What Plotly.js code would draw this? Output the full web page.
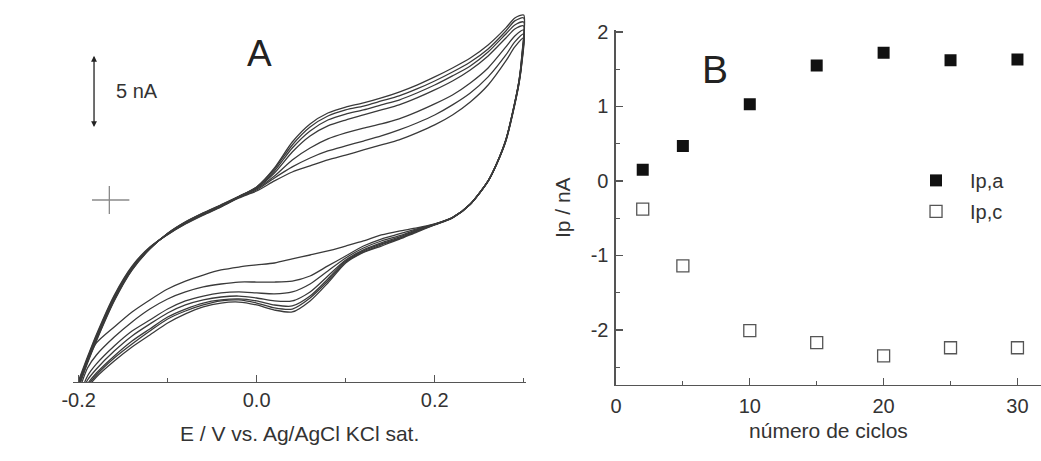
<!DOCTYPE html>
<html>
<head>
<meta charset="utf-8">
<script src="https://cdn.plot.ly/plotly-3.0.1.min.js"></script>
<style>html,body{margin:0;padding:0;background:#fff;}#chart{width:1041px;height:461px;}</style>
</head>
<body>
<div id="chart"></div>
<script>
// ---------- Panel A: cyclic voltammograms (E in V, current in nA) ----------
const E_forward = [-0.20, -0.19, -0.18, -0.16, -0.14, -0.12, -0.10, -0.08, -0.06, -0.04, -0.02, 0.00, 0.02, 0.04, 0.06, 0.08, 0.10, 0.12, 0.14, 0.16, 0.18, 0.20, 0.22, 0.24, 0.26, 0.28, 0.29, 0.30];
const E_reverse = [0.298, 0.295, 0.29, 0.28, 0.27, 0.26, 0.24, 0.22, 0.20, 0.18, 0.16, 0.14, 0.12, 0.10, 0.08, 0.06, 0.04, 0.02, 0.00, -0.02, -0.04, -0.06, -0.08, -0.10, -0.12, -0.14, -0.16, -0.18, -0.19, -0.20];

const cycle2_fwd  = [-12.9, -11.2, -9.6, -6.8, -4.72, -3.36, -2.48, -1.72, -1.08, -0.5, 0.14, 0.64, 1.36, 2.0, 2.43, 2.86, 3.21, 3.57, 3.93, 4.29, 4.79, 5.36, 6.07, 7.0, 8.21, 9.93, 10.93, 11.57];
const cycle5_fwd  = [-13.0, -11.3, -9.7, -6.88, -4.78, -3.39, -2.46, -1.69, -1.05, -0.47, 0.17, 0.71, 1.57, 2.36, 3.0, 3.5, 3.86, 4.21, 4.57, 5.0, 5.5, 6.07, 6.79, 7.64, 8.79, 10.36, 11.29, 11.86];
const cycle10_fwd = [-13.1, -11.38, -9.78, -6.96, -4.83, -3.42, -2.44, -1.66, -1.02, -0.44, 0.2, 0.79, 1.71, 2.86, 3.71, 4.36, 4.79, 5.14, 5.43, 5.79, 6.29, 6.86, 7.5, 8.36, 9.43, 10.93, 11.71, 12.14];
const cycle15_fwd = [-13.18, -11.45, -9.86, -7.03, -4.88, -3.45, -2.42, -1.63, -0.99, -0.41, 0.22, 0.86, 1.93, 3.43, 4.57, 5.29, 5.71, 6.07, 6.43, 6.79, 7.29, 7.86, 8.5, 9.29, 10.29, 11.57, 12.21, 12.43];
const cycle25_fwd = [-13.25, -11.52, -9.93, -7.1, -4.93, -3.47, -2.4, -1.6, -0.96, -0.38, 0.24, 0.86, 2.07, 3.71, 4.93, 5.71, 6.14, 6.43, 6.79, 7.14, 7.64, 8.21, 8.86, 9.57, 10.57, 11.86, 12.5, 12.71];
const cycle30_fwd = [-13.32, -11.58, -10.0, -7.16, -4.97, -3.49, -2.39, -1.58, -0.94, -0.36, 0.25, 0.93, 2.21, 3.93, 5.21, 6.0, 6.43, 6.71, 7.07, 7.43, 7.93, 8.5, 9.14, 9.86, 10.79, 12.07, 12.79, 13.0];
const cycle20_fwd = [-13.4, -11.65, -10.07, -7.22, -5.01, -3.51, -2.38, -1.56, -0.92, -0.34, 0.26, 0.93, 2.29, 4.14, 5.43, 6.21, 6.64, 6.93, 7.29, 7.71, 8.21, 8.79, 9.43, 10.14, 11.07, 12.29, 13.0, 13.21];

const cycle2_rev  = [9.8, 8.4, 6.8, 4.2, 2.6, 1.33, -0.3, -1.24, -1.71, -2.0, -2.22, -2.5, -2.93, -3.29, -3.64, -3.93, -4.21, -4.5, -4.64, -4.79, -5.0, -5.36, -5.79, -6.36, -7.14, -8.0, -9.07, -10.21, -11.43, -13.21];
const cycle5_rev  = [9.9, 8.45, 6.85, 4.23, 2.61, 1.34, -0.3, -1.25, -1.72, -2.07, -2.43, -2.79, -3.29, -4.0, -4.71, -5.43, -5.79, -5.86, -5.86, -5.86, -6.0, -6.21, -6.57, -7.07, -7.79, -8.71, -9.79, -11.07, -12.0, -13.71];
const cycle10_rev = [10.0, 8.5, 6.9, 4.26, 2.63, 1.35, -0.29, -1.26, -1.74, -2.12, -2.57, -2.93, -3.43, -4.14, -5.07, -6.0, -6.57, -6.71, -6.64, -6.57, -6.64, -6.86, -7.21, -7.79, -8.57, -9.36, -10.43, -11.71, -12.57, -14.14];
const cycle15_rev = [10.1, 8.55, 6.92, 4.28, 2.64, 1.36, -0.29, -1.27, -1.75, -2.17, -2.66, -3.07, -3.57, -4.29, -5.43, -6.57, -7.21, -7.21, -7.0, -6.86, -6.93, -7.14, -7.5, -8.07, -8.86, -9.71, -10.79, -12.07, -12.86, -14.36];
const cycle25_rev = [10.2, 8.6, 6.95, 4.3, 2.65, 1.36, -0.3, -1.27, -1.76, -2.2, -2.73, -3.14, -3.64, -4.36, -5.64, -6.86, -7.57, -7.5, -7.21, -7.07, -7.14, -7.36, -7.79, -8.36, -9.21, -10.07, -11.14, -12.36, -13.14, -14.5];
const cycle30_rev = [10.3, 8.62, 6.96, 4.31, 2.65, 1.37, -0.3, -1.28, -1.77, -2.24, -2.76, -3.21, -3.71, -4.43, -5.79, -7.0, -7.79, -7.71, -7.36, -7.14, -7.21, -7.5, -7.93, -8.5, -9.36, -10.29, -11.29, -12.5, -13.29, -14.57];
const cycle20_rev = [10.4, 8.65, 6.98, 4.32, 2.66, 1.37, -0.31, -1.28, -1.78, -2.29, -2.82, -3.29, -3.75, -4.5, -5.93, -7.21, -8.0, -7.86, -7.5, -7.29, -7.36, -7.64, -8.14, -8.79, -9.64, -10.5, -11.5, -12.64, -13.43, -14.64];

// ---------- Panel B: peak currents vs cycle number ----------
const cycles = [2, 5, 10, 15, 20, 25, 30];
const Ipa = [0.15, 0.47, 1.03, 1.55, 1.72, 1.62, 1.63];
const Ipc = [-0.38, -1.14, -2.01, -2.17, -2.35, -2.24, -2.24];

// ---------- tick labels and texts ----------
const tickValsA = [-0.2, 0.0, 0.2];
const tickTextA = ['-0.2', '0.0', '0.2'];
const tickValsBx = [0, 10, 20, 30];
const tickTextBx = ['0', '10', '20', '30'];
const tickValsBy = [-2, -1, 0, 1, 2];
const tickTextBy = ['-2', '-1', '0', '1', '2'];
const labelA = 'A', labelB = 'B';
const xTitleA = 'E / V vs. Ag/AgCl KCl sat.';
const xTitleB = 'número de ciclos';
const yTitleB = 'Ip / nA';
const seriesNames = ['Ip,a', 'Ip,c'];
const scaleText = '5 nA';

const FONT = 'Liberation Sans, Arial, Helvetica, sans-serif';
const TXT = '#333';
const AX = '#555';

const cvSets = [
  [cycle2_fwd, cycle2_rev], [cycle5_fwd, cycle5_rev], [cycle10_fwd, cycle10_rev],
  [cycle15_fwd, cycle15_rev], [cycle25_fwd, cycle25_rev], [cycle30_fwd, cycle30_rev],
  [cycle20_fwd, cycle20_rev]
];

const traces = cvSets.map(([f, r]) => ({
  type: 'scatter', mode: 'lines',
  x: E_forward.concat(E_reverse), y: f.concat(r),
  xaxis: 'x', yaxis: 'y',
  line: {color: '#3a3a3a', width: 1.3, shape: 'spline', smoothing: 0.7},
  showlegend: false, hoverinfo: 'skip'
}));

traces.push({
  type: 'scatter', mode: 'markers', name: seriesNames[0],
  x: cycles, y: Ipa, xaxis: 'x2', yaxis: 'y2',
  marker: {symbol: 'square', size: 12, color: '#111'},
  legendgroup: 'a'
});
traces.push({
  type: 'scatter', mode: 'markers', name: seriesNames[1],
  x: cycles, y: Ipc, xaxis: 'x2', yaxis: 'y2',
  marker: {symbol: 'square-open', size: 12, color: '#555', line: {width: 1.3, color: '#555'}},
  legendgroup: 'c'
});

const axBase = {
  showline: true, linecolor: AX, linewidth: 1.5, mirror: false,
  ticks: 'inside', ticklen: 7, tickwidth: 1.3, tickcolor: AX,
  showgrid: false, zeroline: false, automargin: false,
  tickmode: 'array',
  tickfont: {family: FONT, size: 20, color: TXT}
};

const layout = {
  width: 1041, height: 461,
  margin: {l: 0, r: 0, t: 0, b: 0},
  paper_bgcolor: '#fff', plot_bgcolor: 'rgba(0,0,0,0)',
  font: {family: FONT, color: TXT, size: 16},
  showlegend: true,
  xaxis: Object.assign({}, axBase, {
    domain: [0.0704, 0.5053], range: [-0.206, 0.3026], anchor: 'y',
    tickvals: tickValsA, ticktext: tickTextA, ticklabelstandoff: 0,
    minor: {tickmode: 'linear', tick0: 0, dtick: 0.1, ticks: 'inside', ticklen: 4, tickcolor: AX, tickwidth: 1.2},
    title: {text: xTitleA, font: {family: FONT, size: 21, color: TXT}, standoff: 16}
  }),
  yaxis: {domain: [0.1714, 0.9827], range: [-13.0, 13.714], visible: false, anchor: 'x', fixedrange: true},
  xaxis2: Object.assign({}, axBase, {
    domain: [0.5917, 1.0], range: [0, 31.76], anchor: 'y2',
    tickvals: tickValsBx, ticktext: tickTextBx, ticklabelstandoff: 3,
    minor: {tickmode: 'linear', tick0: 0, dtick: 5, ticks: 'inside', ticklen: 4, tickcolor: AX, tickwidth: 1.2},
    title: {text: xTitleB, font: {family: FONT, size: 21, color: TXT}, standoff: 7}
  }),
  yaxis2: Object.assign({}, axBase, {
    domain: [0.1649, 0.9339], range: [-2.74, 2.02], anchor: 'x2',
    tickvals: tickValsBy, ticktext: tickTextBy, ticklabelstandoff: 2,
    minor: {tickmode: 'linear', tick0: 0, dtick: 0.5, ticks: 'inside', ticklen: 4, tickcolor: AX, tickwidth: 1.2},
    title: {text: yTitleB, font: {family: FONT, size: 21, color: TXT}, standoff: 14}
  }),
  legend: {
    x: 0.8665, y: 0.651, xanchor: 'left', yanchor: 'top',
    bgcolor: 'rgba(0,0,0,0)', borderwidth: 0,
    font: {family: FONT, size: 20, color: TXT},
    traceorder: 'grouped', tracegroupgap: 2, itemwidth: 58
  },
  shapes: [
    {type: 'line', xref: 'x', yref: 'y', x0: -0.185, x1: -0.143, y0: 0, y1: 0, line: {color: '#8a8a8a', width: 1.3}},
    {type: 'line', xref: 'x', yref: 'y', x0: -0.1655, x1: -0.1655, y0: -1.0, y1: 1.0, line: {color: '#8a8a8a', width: 1.3}}
  ],
  annotations: [
    {xref: 'x', yref: 'y', x: -0.1827, y: 10.3, ax: -0.1827, ay: 5.1, axref: 'x', ayref: 'y',
     showarrow: true, arrowhead: 2, arrowside: 'end+start', arrowsize: 0.9, arrowwidth: 1.3, arrowcolor: '#222', text: ''},
    {xref: 'x', yref: 'y', x: -0.1345, y: 7.8, xanchor: 'center', yanchor: 'middle', text: scaleText, showarrow: false,
     font: {family: FONT, size: 20, color: TXT}},
    {xref: 'paper', yref: 'paper', x: 0.2488, y: 0.885, xanchor: 'center', yanchor: 'middle', text: labelA, showarrow: false,
     font: {family: FONT, size: 37, color: '#222'}},
    {xref: 'paper', yref: 'paper', x: 0.6869, y: 0.850, xanchor: 'center', yanchor: 'middle', text: labelB, showarrow: false,
     font: {family: FONT, size: 39, color: '#222'}}
  ]
};

Plotly.newPlot('chart', traces, layout, {staticPlot: true, displayModeBar: false});
</script>
</body>
</html>
